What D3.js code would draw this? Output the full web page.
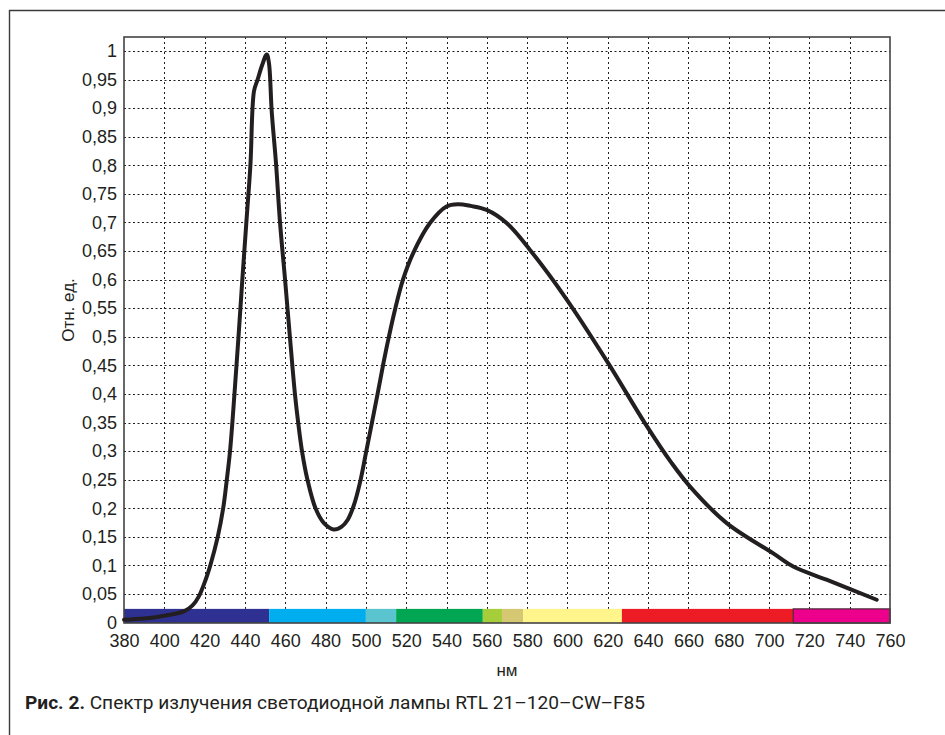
<!DOCTYPE html>
<html>
<head>
<meta charset="utf-8">
<script src="https://cdn.jsdelivr.net/npm/d3@7"></script>
<style>
  body { margin: 0; background: #fff; }
  svg { display: block; }
</style>
</head>
<body>
<div id="chart"></div>
<script>
// --- Data ---
const wavelengths = [380, 390, 400, 410, 414, 417, 420.5, 422.8, 426.5, 429.2, 431.0, 432.6, 434.8, 436.8, 438.7, 440.7, 442.7, 444.5, 446.2, 448.5, 450.8, 451.9, 453.3, 455.4, 457.4, 459.9, 462.3, 464.8, 466.4, 468.3, 471.0, 475.0, 479.2, 484.0, 488, 491, 494, 497, 500.2, 503.0, 505.8, 508.7, 511.4, 514.4, 518.4, 523.4, 531.8, 540, 545.7, 552, 559.9, 569.8, 581.4, 598.7, 620.2, 638.4, 651.7, 660.8, 679, 702.1, 712, 728.5, 753.4];
const intensity = [0.005, 0.007, 0.012, 0.02, 0.03, 0.045, 0.075, 0.10, 0.15, 0.20, 0.25, 0.30, 0.40, 0.50, 0.60, 0.70, 0.80, 0.93, 0.949, 0.975, 0.994, 0.979, 0.893, 0.804, 0.70, 0.60, 0.50, 0.40, 0.35, 0.30, 0.25, 0.20, 0.174, 0.163, 0.168, 0.18, 0.205, 0.244, 0.30, 0.35, 0.40, 0.454, 0.50, 0.547, 0.60, 0.646, 0.699, 0.728, 0.732, 0.729, 0.722, 0.699, 0.652, 0.570, 0.454, 0.349, 0.279, 0.238, 0.174, 0.121, 0.098, 0.075, 0.040];

// spectrum strip under the curve
const bandStarts = [380, 452, 500, 515, 558, 567.5, 578, 627, 712];
const bandEnds   = [452, 500, 515, 558, 567.5, 578, 627, 712, 760];
const bandColors = ["#2e3192", "#00aeef", "#5ac4cf", "#00a651", "#a6cd3a", "#d6c873", "#fff58a", "#ed1c24", "#ec008c"];

const xTicks = d3.range(380, 761, 20);
const yTicks = d3.range(0, 21).map(i => i / 20);

const yTitle = "Отн. ед.";
const xTitle = "нм";
const captionBold = "Рис. 2.";
const captionText = " Спектр излучения светодиодной лампы RTL 21–120–CW–F85";

// --- Layout ---
const W = 945, H = 735;
const plot = { left: 124, top: 37, right: 890, bottom: 623 };

const svg = d3.select("#chart").append("svg")
    .attr("width", W)
    .attr("height", H);

// outer frame (left + top edges)
svg.append("path")
    .attr("d", `M9.5,${H} L9.5,10.5 L${W},10.5`)
    .attr("fill", "none")
    .attr("stroke", "#3a3a3a")
    .attr("stroke-width", 1.4);

const x = d3.scaleLinear().domain([380, 760]).range([plot.left, plot.right]);
const y = d3.scaleLinear().domain([0, 1]).range([622.6, 51]);

const fontAxis = "'Liberation Sans', Arial, sans-serif";

// --- Grid ---
const bandTop = y(0.024);

svg.append("g")
    .selectAll("line")
    .data(yTicks.filter(d => d > 0))
    .join("line")
    .attr("x1", plot.left).attr("x2", plot.right)
    .attr("y1", d => Math.round(y(d)) + 0.5).attr("y2", d => Math.round(y(d)) + 0.5)
    .attr("stroke", "#1e1e1e")
    .attr("stroke-width", 1)
    .attr("stroke-dasharray", "2,2.5");

svg.append("g")
    .selectAll("line")
    .data(xTicks.filter(d => d > 380 && d < 760))
    .join("line")
    .attr("x1", d => Math.round(x(d)) + 0.5).attr("x2", d => Math.round(x(d)) + 0.5)
    .attr("y1", plot.top).attr("y2", bandTop)
    .attr("stroke", "#1e1e1e")
    .attr("stroke-width", 1)
    .attr("stroke-dasharray", "2,3");

// --- Spectrum strip ---
svg.append("g")
    .selectAll("rect")
    .data(bandColors)
    .join("rect")
    .attr("x", (d, i) => x(bandStarts[i]))
    .attr("y", bandTop)
    .attr("width", (d, i) => x(bandEnds[i]) - x(bandStarts[i]))
    .attr("height", plot.bottom - bandTop)
    .attr("fill", d => d);

// outline of the last (magenta) segment
svg.append("rect")
    .attr("x", x(bandStarts[8]))
    .attr("y", bandTop)
    .attr("width", x(bandEnds[8]) - x(bandStarts[8]))
    .attr("height", plot.bottom - bandTop)
    .attr("fill", "none")
    .attr("stroke", "#4a2a3a")
    .attr("stroke-width", 1.2);

// plot border
svg.append("rect")
    .attr("x", plot.left)
    .attr("y", plot.top)
    .attr("width", plot.right - plot.left)
    .attr("height", plot.bottom - plot.top)
    .attr("fill", "none")
    .attr("stroke", "#444")
    .attr("stroke-width", 1.6);

// --- Curve ---
const pts = wavelengths.map((w, i) => [w, intensity[i]]);
const line = d3.line()
    .x(d => x(d[0]))
    .y(d => y(d[1]))
    .curve(d3.curveCatmullRom.alpha(0.5));

svg.append("path")
    .datum(pts)
    .attr("d", line)
    .attr("fill", "none")
    .attr("stroke", "#231f20")
    .attr("stroke-width", 4)
    .attr("stroke-linejoin", "round")
    .attr("stroke-linecap", "round");

// --- Axes (labels only) ---
const fmt = d => String(+d.toFixed(2)).replace(".", ",");

const yAxis = svg.append("g")
    .attr("transform", `translate(${plot.left - 7},0)`)
    .call(d3.axisLeft(y).tickValues(yTicks).tickFormat(fmt).tickSize(0).tickPadding(0));
yAxis.select(".domain").remove();
yAxis.selectAll("text")
    .attr("font-family", fontAxis)
    .attr("font-size", 18)
    .attr("fill", "#231f20");

const xAxis = svg.append("g")
    .attr("transform", `translate(0,${plot.bottom})`)
    .call(d3.axisBottom(x).tickValues(xTicks).tickFormat(d3.format("d")).tickSize(0).tickPadding(11));
xAxis.select(".domain").remove();
xAxis.selectAll("text")
    .attr("font-family", fontAxis)
    .attr("font-size", 18)
    .attr("fill", "#231f20");

// axis titles
svg.append("text")
    .attr("transform", "translate(74,310) rotate(-90)")
    .attr("text-anchor", "middle")
    .attr("font-family", fontAxis)
    .attr("font-size", 17)
    .attr("fill", "#231f20")
    .text(yTitle);

svg.append("text")
    .attr("x", 507)
    .attr("y", 676)
    .attr("text-anchor", "middle")
    .attr("font-family", fontAxis)
    .attr("font-size", 17)
    .attr("fill", "#231f20")
    .text(xTitle);

// --- Caption ---
const cap = svg.append("text")
    .attr("x", 25)
    .attr("y", 709)
    .attr("font-family", "Roboto, 'Noto Sans', sans-serif")
    .attr("font-size", 18)
    .attr("fill", "#231f20");
cap.append("tspan").attr("font-weight", "bold").text(captionBold);
cap.append("tspan").text(captionText);
cap.attr("textLength", 620).attr("lengthAdjust", "spacingAndGlyphs");
</script>
</body>
</html>
